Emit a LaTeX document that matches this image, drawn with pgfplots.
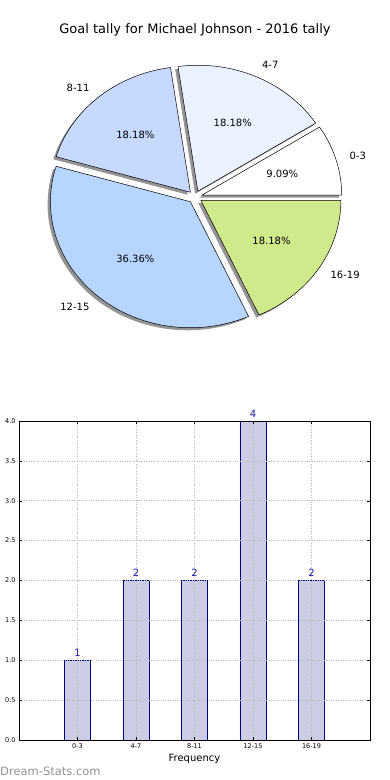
\documentclass[border=0pt]{standalone}
\usepackage{pgfplots}
\pgfplotsset{compat=1.18}
\usepackage{fontspec}
\setmainfont{DejaVu Sans}
\definecolor{c03}{HTML}{FFFFFF}
\definecolor{c47}{HTML}{EBF2FF}
\definecolor{c811}{HTML}{C7D9FF}
\definecolor{c1215}{HTML}{B6D5FF}
\definecolor{c1619}{HTML}{CFEA8B}
\definecolor{barfill}{HTML}{CCCCE5}
\definecolor{baredge}{HTML}{000088}
\definecolor{numblue}{HTML}{1A1AA8}
\definecolor{gridgray}{HTML}{B8B8B8}
\def\total{11}
\def\explode{0.05}
% #1 cumulative before, #2 value
\newcommand\pieshadow[2]{%
  \pgfmathsetmacro\angA{360*#1/\total}%
  \pgfmathsetmacro\angB{360*(#1+#2)/\total}%
  \pgfmathsetmacro\angM{(\angA+\angB)/2}%
  \pgfmathsetmacro\dx{\explode*cos(\angM)-0.02}%
  \pgfmathsetmacro\dy{\explode*sin(\angM)-0.02}%
  \edef\doit{\noexpand\addplot[fill=black, draw=none, fill opacity=0.42, domain=\angA:\angB, samples=80] ({\dx+cos(x)},{\dy+sin(x)}) -- (axis cs:\dx,\dy) -- cycle;}%
  \doit
}
% #1 cumulative, #2 value, #3 colour, #4 label, #5 percentage
\newcommand\pieslice[5]{%
  \pgfmathsetmacro\angA{360*#1/\total}%
  \pgfmathsetmacro\angB{360*(#1+#2)/\total}%
  \pgfmathsetmacro\angM{(\angA+\angB)/2}%
  \pgfmathsetmacro\dx{\explode*cos(\angM)}%
  \pgfmathsetmacro\dy{\explode*sin(\angM)}%
  \pgfmathsetmacro\lx{\dx+1.1*cos(\angM)}%
  \pgfmathsetmacro\ly{\dy+1.1*sin(\angM)}%
  \pgfmathsetmacro\px{\dx+0.6*cos(\angM)}%
  \pgfmathsetmacro\py{\dy+0.6*sin(\angM)}%
  \ifdim\dx pt>0pt \def\anch{west}\else\def\anch{east}\fi
  \edef\doit{\noexpand\addplot[fill=#3, draw=black, line width=0.5pt, domain=\angA:\angB, samples=80] ({\dx+cos(x)},{\dy+sin(x)}) -- (axis cs:\dx,\dy) -- cycle;
    \noexpand\node[anchor=\anch, inner sep=0pt, font=\noexpand\fontsize{10}{12}\noexpand\selectfont] at (axis cs:\lx,\ly) {\unexpanded{#4}};
    \noexpand\node[inner sep=0pt, font=\noexpand\fontsize{10}{12}\noexpand\selectfont] at (axis cs:\px,\py) {\unexpanded{#5}};}%
  \doit
}
\begin{document}
\begin{tikzpicture}
\useasboundingbox (0pt,0pt) rectangle (390pt,780pt);
\node[font=\fontsize{13}{15}\selectfont] at (195pt,750pt) {Goal tally for Michael Johnson - 2016 tally};
% pie: centre (195,583), Rx=140, Ry=126, range +-1.3
\begin{axis}[at={(13pt,419.2pt)}, anchor=south west, scale only axis,
  width=364pt, height=327.6pt, xmin=-1.3, xmax=1.3, ymin=-1.3, ymax=1.3,
  hide axis, clip=false]
\pieshadow{0}{1}
\pieshadow{1}{2}
\pieshadow{3}{2}
\pieshadow{5}{4}
\pieshadow{9}{2}
\pieslice{0}{1}{c03}{0-3}{9.09\%}
\pieslice{1}{2}{c47}{4-7}{18.18\%}
\pieslice{3}{2}{c811}{8-11}{18.18\%}
\pieslice{5}{4}{c1215}{12-15}{36.36\%}
\pieslice{9}{2}{c1619}{16-19}{18.18\%}
\end{axis}
% bars
\begin{axis}[at={(19pt,40pt)}, anchor=south west, scale only axis,
  width=351pt, height=319pt, xmin=-1, xmax=5, ymin=0, ymax=4,
  xtick={0,1,2,3,4}, xticklabels={0-3,4-7,8-11,12-15,16-19},
  ytick={0,0.5,...,4},
  yticklabel style={/pgf/number format/.cd, fixed, fixed zerofill, precision=1},
  /pgf/number format/assume math mode=true,
  tick label style={font=\fontsize{6.5}{7}\selectfont},
  major tick length=3pt, tick style={black, line width=0.4pt},
  xlabel={Frequency}, xlabel style={font=\fontsize{10}{12}\selectfont, yshift=1pt},
  grid=major, grid style={dotted, gridgray, line width=0.7pt},
  axis on top, axis line style={black, line width=0.6pt}, clip=false]
\addplot[ybar, bar width=0.45, fill=barfill, draw=baredge, line width=0.6pt,
  nodes near coords, nodes near coords style={font=\fontsize{10}{12}\selectfont, text=numblue, yshift=0pt}]
  coordinates {(0,1) (1,2) (2,2) (3,4) (4,2)};
\end{axis}
\node[anchor=west, text=gray!85, inner sep=0pt, font=\fontsize{11.5}{13}\selectfont] at (0pt,9pt) {Dream-Stats.com};
\end{tikzpicture}
\end{document}
